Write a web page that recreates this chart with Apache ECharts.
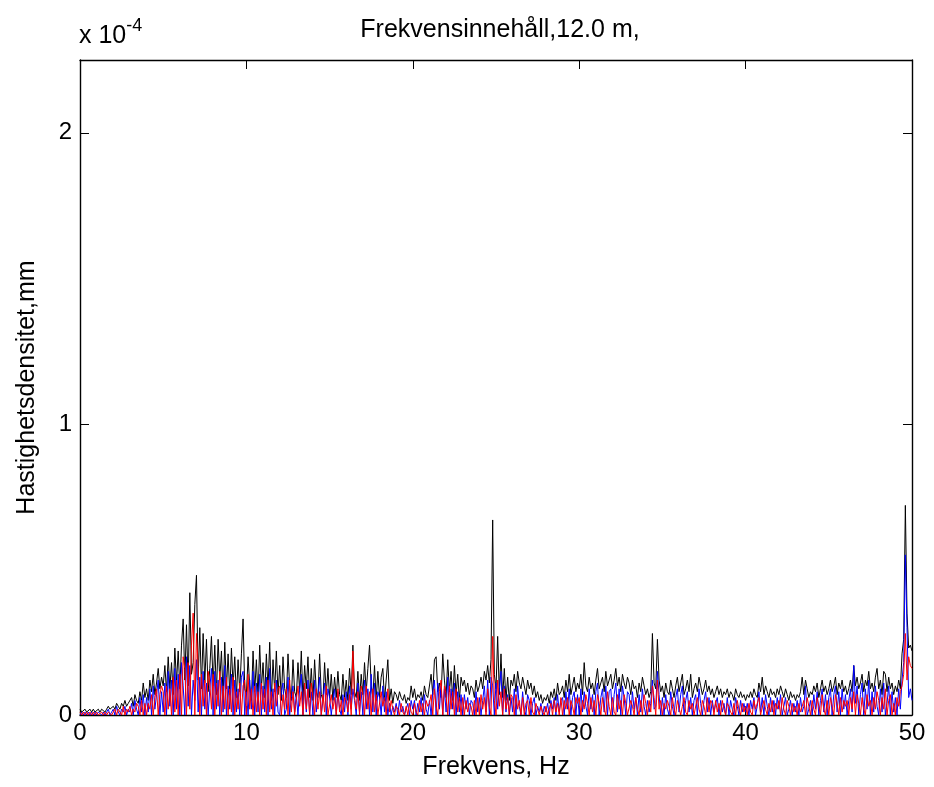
<!DOCTYPE html>
<html>
<head>
<meta charset="utf-8">
<script src="https://cdn.jsdelivr.net/npm/echarts@6/dist/echarts.min.js"></script>
<style>
  html, body { margin: 0; padding: 0; background: #fff; }
  #chart { width: 934px; height: 787px; }
</style>
</head>
<body>
<div id="chart"></div>
<script>
// Spectral velocity density, three traces sampled every 0.1 Hz from 0 to 50 Hz.
// Values are in units of 1e-4 (see the "x 10^-4" multiplier above the y axis).
const freqStep = 0.1;

const blackTrace = [
  0.02,0.01,0.01,0.02,0.01,0.01,0.02,0.01,0.02,0.01,
  0.01,0.02,0.01,0.02,0.02,0.01,0.02,0.03,0.02,0.02,
  0.03,0.02,0.04,0.03,0.02,0.04,0.03,0.05,0.03,0.04,
  0.04,0.06,0.03,0.07,0.05,0.04,0.08,0.05,0.11,0.06,
  0.09,0.05,0.12,0.08,0.14,0.07,0.11,0.16,0.09,0.13,
  0.10,0.17,0.08,0.20,0.09,0.18,0.07,0.23,0.11,0.22,
  0.09,0.24,0.33,0.12,0.31,0.10,0.42,0.14,0.18,0.38,
  0.48,0.12,0.30,0.09,0.28,0.11,0.26,0.08,0.16,0.27,
  0.10,0.24,0.07,0.26,0.12,0.22,0.06,0.25,0.09,0.21,
  0.07,0.23,0.10,0.20,0.06,0.19,0.08,0.21,0.33,0.09,
  0.07,0.20,0.10,0.05,0.22,0.08,0.19,0.06,0.24,0.09,
  0.18,0.06,0.21,0.09,0.25,0.05,0.19,0.08,0.22,0.07,
  0.17,0.05,0.20,0.09,0.06,0.21,0.10,0.05,0.19,0.08,
  0.06,0.18,0.08,0.22,0.05,0.17,0.09,0.20,0.06,0.16,
  0.05,0.19,0.08,0.06,0.21,0.07,0.05,0.18,0.07,0.16,
  0.06,0.14,0.05,0.13,0.06,0.15,0.07,0.05,0.14,0.06,
  0.12,0.05,0.16,0.07,0.24,0.08,0.06,0.15,0.05,0.14,
  0.07,0.18,0.08,0.16,0.24,0.10,0.06,0.17,0.05,0.15,
  0.06,0.13,0.16,0.05,0.12,0.19,0.05,0.09,0.04,0.08,
  0.07,0.05,0.08,0.06,0.05,0.07,0.04,0.06,0.05,0.10,
  0.06,0.09,0.05,0.07,0.06,0.08,0.05,0.10,0.07,0.06,
  0.06,0.14,0.07,0.19,0.20,0.08,0.11,0.06,0.21,0.12,
  0.06,0.19,0.08,0.15,0.05,0.17,0.07,0.14,0.05,0.13,
  0.10,0.12,0.08,0.11,0.07,0.10,0.09,0.06,0.12,0.08,
  0.10,0.13,0.09,0.15,0.12,0.17,0.11,0.19,0.67,0.14,
  0.09,0.27,0.07,0.21,0.06,0.16,0.05,0.13,0.05,0.12,
  0.10,0.14,0.08,0.15,0.11,0.09,0.13,0.10,0.07,0.12,
  0.09,0.11,0.07,0.10,0.06,0.08,0.05,0.07,0.04,0.06,
  0.05,0.07,0.04,0.08,0.06,0.09,0.05,0.11,0.07,0.08,
  0.10,0.06,0.12,0.08,0.14,0.07,0.10,0.13,0.08,0.11,
  0.09,0.14,0.07,0.18,0.10,0.08,0.13,0.09,0.11,0.07,
  0.12,0.16,0.09,0.11,0.13,0.08,0.15,0.10,0.12,0.14,
  0.09,0.12,0.16,0.10,0.13,0.08,0.14,0.11,0.09,0.13,
  0.11,0.07,0.12,0.09,0.10,0.06,0.11,0.08,0.13,0.10,
  0.07,0.09,0.06,0.08,0.28,0.11,0.09,0.26,0.12,0.08,
  0.10,0.06,0.11,0.08,0.07,0.12,0.09,0.06,0.10,0.13,
  0.08,0.11,0.14,0.07,0.09,0.12,0.08,0.14,0.06,0.09,
  0.11,0.08,0.13,0.10,0.07,0.09,0.12,0.08,0.10,0.07,
  0.09,0.06,0.08,0.10,0.07,0.09,0.06,0.08,0.07,0.09,
  0.06,0.08,0.07,0.05,0.09,0.07,0.06,0.08,0.06,0.07,
  0.05,0.07,0.06,0.08,0.06,0.09,0.07,0.06,0.11,0.08,
  0.13,0.07,0.10,0.08,0.06,0.09,0.07,0.08,0.06,0.09,
  0.07,0.10,0.08,0.06,0.09,0.07,0.05,0.08,0.06,0.07,
  0.05,0.07,0.06,0.08,0.13,0.07,0.12,0.09,0.06,0.08,
  0.07,0.10,0.08,0.11,0.06,0.09,0.12,0.08,0.10,0.07,
  0.09,0.12,0.08,0.10,0.13,0.07,0.11,0.09,0.12,0.08,
  0.10,0.07,0.09,0.12,0.08,0.17,0.10,0.13,0.09,0.11,
  0.14,0.08,0.12,0.10,0.15,0.09,0.11,0.08,0.13,0.16,
  0.09,0.12,0.07,0.15,0.14,0.08,0.13,0.09,0.11,0.07,
  0.10,0.08,0.12,0.09,0.21,0.26,0.72,0.35,0.23,0.24,
  0.22
];

const blueTrace = [
  0.00,0.01,0.00,0.01,0.00,0.01,0.00,0.01,0.00,0.01,
  0.00,0.01,0.01,0.00,0.01,0.00,0.01,0.02,0.00,0.01,
  0.02,0.00,0.03,0.01,0.00,0.02,0.01,0.03,0.00,0.02,
  0.01,0.04,0.00,0.05,0.02,0.00,0.06,0.01,0.07,0.00,
  0.06,0.01,0.09,0.00,0.10,0.02,0.07,0.12,0.00,0.08,
  0.01,0.11,0.00,0.15,0.03,0.12,0.00,0.16,0.02,0.14,
  0.00,0.18,0.10,0.00,0.20,0.03,0.17,0.00,0.12,0.05,
  0.19,0.01,0.13,0.00,0.15,0.02,0.11,0.00,0.09,0.16,
  0.00,0.15,0.02,0.12,0.00,0.13,0.01,0.17,0.00,0.10,
  0.02,0.14,0.00,0.12,0.01,0.09,0.00,0.13,0.15,0.00,
  0.08,0.00,0.12,0.02,0.15,0.00,0.11,0.01,0.14,0.00,
  0.10,0.01,0.13,0.00,0.16,0.02,0.09,0.00,0.12,0.01,
  0.00,0.08,0.11,0.00,0.02,0.13,0.00,0.06,0.10,0.01,
  0.07,0.00,0.09,0.14,0.00,0.10,0.01,0.12,0.00,0.08,
  0.00,0.12,0.01,0.07,0.13,0.00,0.05,0.11,0.00,0.09,
  0.06,0.00,0.05,0.09,0.00,0.08,0.02,0.00,0.07,0.01,
  0.08,0.00,0.10,0.02,0.09,0.05,0.00,0.11,0.01,0.08,
  0.00,0.12,0.02,0.09,0.00,0.14,0.01,0.11,0.00,0.08,
  0.06,0.00,0.10,0.01,0.08,0.00,0.04,0.00,0.03,0.01,
  0.04,0.00,0.05,0.01,0.03,0.00,0.02,0.04,0.00,0.05,
  0.02,0.05,0.00,0.04,0.01,0.06,0.00,0.07,0.02,0.00,
  0.05,0.00,0.08,0.12,0.00,0.11,0.02,0.10,0.00,0.09,
  0.01,0.13,0.00,0.09,0.02,0.11,0.00,0.08,0.01,0.07,
  0.00,0.07,0.02,0.06,0.00,0.05,0.04,0.00,0.08,0.01,
  0.06,0.00,0.05,0.10,0.01,0.12,0.00,0.13,0.10,0.00,
  0.11,0.02,0.09,0.15,0.00,0.10,0.01,0.07,0.00,0.06,
  0.01,0.09,0.00,0.10,0.03,0.00,0.08,0.02,0.00,0.07,
  0.05,0.00,0.04,0.06,0.00,0.03,0.01,0.04,0.00,0.03,
  0.01,0.04,0.00,0.05,0.02,0.06,0.00,0.07,0.01,0.05,
  0.06,0.00,0.08,0.02,0.09,0.00,0.06,0.08,0.00,0.07,
  0.00,0.09,0.01,0.08,0.03,0.00,0.09,0.02,0.07,0.00,
  0.08,0.11,0.00,0.06,0.09,0.01,0.10,0.00,0.08,0.09,
  0.00,0.07,0.11,0.01,0.09,0.00,0.10,0.06,0.00,0.08,
  0.07,0.00,0.08,0.02,0.06,0.00,0.07,0.01,0.09,0.03,
  0.00,0.05,0.01,0.04,0.12,0.02,0.03,0.15,0.07,0.00,
  0.06,0.00,0.07,0.02,0.00,0.08,0.03,0.00,0.06,0.09,
  0.01,0.07,0.10,0.00,0.05,0.08,0.01,0.06,0.00,0.05,
  0.07,0.00,0.09,0.04,0.00,0.05,0.08,0.01,0.06,0.00,
  0.05,0.01,0.04,0.06,0.00,0.05,0.01,0.04,0.00,0.06,
  0.00,0.05,0.02,0.00,0.06,0.03,0.00,0.05,0.01,0.04,
  0.01,0.04,0.00,0.05,0.02,0.06,0.00,0.03,0.08,0.01,
  0.06,0.00,0.07,0.03,0.00,0.06,0.01,0.05,0.00,0.06,
  0.02,0.07,0.00,0.03,0.06,0.00,0.02,0.05,0.00,0.04,
  0.01,0.05,0.00,0.06,0.01,0.03,0.10,0.00,0.02,0.05,
  0.00,0.07,0.02,0.08,0.00,0.05,0.09,0.01,0.07,0.00,
  0.06,0.09,0.00,0.07,0.10,0.01,0.08,0.00,0.09,0.02,
  0.07,0.00,0.05,0.09,0.01,0.17,0.04,0.10,0.00,0.07,
  0.11,0.00,0.09,0.02,0.12,0.00,0.08,0.01,0.10,0.03,
  0.00,0.09,0.01,0.11,0.00,0.04,0.10,0.00,0.08,0.01,
  0.06,0.00,0.09,0.02,0.12,0.18,0.55,0.30,0.06,0.09,
  0.05
];

const redTrace = [
  0.01,0.00,0.01,0.00,0.01,0.00,0.01,0.00,0.01,0.00,
  0.01,0.00,0.00,0.01,0.00,0.01,0.00,0.01,0.01,0.00,
  0.00,0.02,0.00,0.02,0.01,0.00,0.03,0.00,0.02,0.01,
  0.03,0.00,0.02,0.01,0.04,0.03,0.00,0.05,0.00,0.04,
  0.00,0.04,0.02,0.07,0.00,0.06,0.09,0.00,0.07,0.10,
  0.08,0.00,0.10,0.02,0.09,0.00,0.13,0.01,0.12,0.00,
  0.14,0.00,0.20,0.16,0.00,0.18,0.02,0.24,0.35,0.00,
  0.28,0.17,0.00,0.14,0.03,0.12,0.00,0.15,0.11,0.02,
  0.14,0.00,0.11,0.03,0.15,0.00,0.10,0.02,0.13,0.00,
  0.09,0.01,0.13,0.00,0.08,0.02,0.11,0.00,0.10,0.12,
  0.00,0.14,0.02,0.09,0.00,0.10,0.01,0.08,0.00,0.11,
  0.02,0.09,0.00,0.12,0.01,0.08,0.00,0.11,0.03,0.09,
  0.10,0.00,0.07,0.02,0.09,0.00,0.12,0.01,0.08,0.00,
  0.00,0.10,0.03,0.08,0.00,0.11,0.02,0.09,0.00,0.11,
  0.06,0.00,0.09,0.02,0.08,0.00,0.07,0.01,0.10,0.00,
  0.00,0.07,0.02,0.06,0.00,0.09,0.01,0.05,0.00,0.06,
  0.05,0.01,0.07,0.00,0.22,0.06,0.02,0.08,0.00,0.10,
  0.07,0.00,0.10,0.02,0.08,0.00,0.09,0.01,0.07,0.00,
  0.00,0.08,0.03,0.06,0.00,0.09,0.01,0.05,0.02,0.00,
  0.03,0.02,0.00,0.04,0.01,0.00,0.03,0.00,0.04,0.01,
  0.00,0.04,0.01,0.00,0.05,0.01,0.04,0.00,0.05,0.03,
  0.04,0.07,0.00,0.09,0.03,0.00,0.08,0.12,0.00,0.10,
  0.07,0.00,0.10,0.02,0.08,0.00,0.09,0.01,0.06,0.00,
  0.06,0.00,0.05,0.01,0.04,0.03,0.00,0.05,0.00,0.06,
  0.00,0.07,0.02,0.06,0.00,0.09,0.03,0.00,0.27,0.05,
  0.00,0.12,0.03,0.08,0.00,0.09,0.02,0.06,0.00,0.07,
  0.06,0.00,0.07,0.02,0.05,0.00,0.06,0.00,0.04,0.05,
  0.00,0.06,0.01,0.00,0.04,0.02,0.00,0.03,0.01,0.00,
  0.03,0.00,0.02,0.04,0.00,0.05,0.01,0.04,0.00,0.06,
  0.00,0.05,0.02,0.06,0.00,0.05,0.03,0.00,0.06,0.04,
  0.06,0.00,0.05,0.02,0.07,0.04,0.00,0.06,0.01,0.05,
  0.00,0.07,0.04,0.00,0.06,0.02,0.00,0.08,0.03,0.00,
  0.06,0.01,0.00,0.07,0.02,0.05,0.00,0.07,0.04,0.00,
  0.00,0.05,0.03,0.00,0.06,0.02,0.00,0.05,0.00,0.07,
  0.04,0.00,0.05,0.01,0.10,0.06,0.00,0.12,0.02,0.05,
  0.00,0.04,0.02,0.05,0.03,0.00,0.06,0.02,0.00,0.05,
  0.05,0.00,0.03,0.06,0.01,0.00,0.05,0.02,0.04,0.00,
  0.00,0.06,0.02,0.00,0.05,0.03,0.00,0.06,0.01,0.05,
  0.04,0.00,0.05,0.01,0.04,0.00,0.05,0.02,0.00,0.04,
  0.03,0.01,0.00,0.04,0.00,0.05,0.02,0.00,0.04,0.01,
  0.03,0.00,0.04,0.01,0.00,0.05,0.02,0.04,0.06,0.00,
  0.00,0.05,0.02,0.00,0.04,0.01,0.05,0.00,0.04,0.02,
  0.05,0.00,0.06,0.02,0.00,0.05,0.03,0.00,0.04,0.01,
  0.03,0.00,0.04,0.01,0.03,0.05,0.00,0.06,0.03,0.00,
  0.05,0.02,0.00,0.06,0.03,0.00,0.07,0.02,0.00,0.05,
  0.00,0.06,0.03,0.00,0.07,0.04,0.00,0.06,0.01,0.05,
  0.03,0.05,0.00,0.06,0.02,0.08,0.00,0.07,0.04,0.00,
  0.06,0.02,0.00,0.07,0.03,0.05,0.00,0.06,0.02,0.08,
  0.05,0.00,0.06,0.02,0.09,0.00,0.05,0.07,0.00,0.04,
  0.00,0.06,0.03,0.08,0.10,0.14,0.28,0.12,0.20,0.17,
  0.16
];

const xTicks = [0, 10, 20, 30, 40, 50];
const yTicks = [0, 1, 2];

const titleText = 'Frekvensinnehåll,12.0 m,';
const xName = 'Frekvens, Hz';
const yName = 'Hastighetsdensitet,mm';

function pairs(values) {
  return values.map((v, i) => [Math.round(i * freqStep * 10) / 10, v]);
}

const font = '"Liberation Sans", Arial, Helvetica, sans-serif';
const textSize = 25;
const tickSize = 24;
const chart = echarts.init(document.getElementById('chart'), null, { renderer: 'canvas' });

const tickStyle = { show: true, inside: true, length: 9, lineStyle: { color: '#000', width: 1 } };
const lineStyleAxis = { show: true, onZero: false, lineStyle: { color: '#000', width: 1.4 } };

chart.setOption({
  animation: false,
  backgroundColor: '#fff',
  textStyle: { fontFamily: font },
  title: {
    text: titleText,
    left: 495, top: 13,
    textAlign: 'center',
    textStyle: { fontFamily: font, fontSize: textSize, fontWeight: 'normal', color: '#000' }
  },
  graphic: [{
    type: 'text',
    left: 79, top: 17,
    style: {
      text: 'x 10{sup|-4}',
      fontFamily: font, fontSize: 25, fill: '#000',
      rich: { sup: { fontFamily: font, fontSize: 18, verticalAlign: 'top', padding: [0, 0, 20, 0] } }
    }
  }],
  grid: { left: 80, right: 22, top: 60, bottom: 72, containLabel: false },
  xAxis: [{
    type: 'value', min: xTicks[0], max: xTicks[xTicks.length - 1], interval: 10,
    position: 'bottom',
    name: xName, nameLocation: 'middle', nameGap: 40,
    nameTextStyle: { fontFamily: font, fontSize: textSize, color: '#000' },
    axisLine: lineStyleAxis, axisTick: tickStyle,
    axisLabel: { fontFamily: font, fontSize: tickSize, color: '#000', margin: 6 },
    splitLine: { show: false }
  }, {
    type: 'value', min: xTicks[0], max: xTicks[xTicks.length - 1], interval: 10,
    position: 'top',
    axisLine: lineStyleAxis, axisTick: tickStyle,
    axisLabel: { show: false }, splitLine: { show: false }
  }],
  yAxis: [{
    type: 'value', min: yTicks[0], max: 2.25, interval: 1,
    position: 'left',
    name: yName, nameLocation: 'middle', nameGap: 40,
    nameTextStyle: { fontFamily: font, fontSize: textSize, color: '#000' },
    axisLine: lineStyleAxis, axisTick: tickStyle,
    axisLabel: {
      fontFamily: font, fontSize: tickSize, color: '#000', margin: 8,
      formatter: v => (yTicks.indexOf(v) >= 0 ? String(v) : '')
    },
    splitLine: { show: false }
  }, {
    type: 'value', min: yTicks[0], max: 2.25, interval: 1,
    position: 'right',
    axisLine: lineStyleAxis, axisTick: tickStyle,
    axisLabel: { show: false }, splitLine: { show: false }
  }],
  series: [
    { type: 'line', data: pairs(blackTrace), showSymbol: false, symbol: 'none',
      lineStyle: { color: '#000000', width: 1 }, z: 2 },
    { type: 'line', data: pairs(blueTrace), showSymbol: false, symbol: 'none',
      lineStyle: { color: '#0000ff', width: 1 }, z: 3 },
    { type: 'line', data: pairs(redTrace), showSymbol: false, symbol: 'none',
      lineStyle: { color: '#ff0000', width: 1 }, z: 4 }
  ]
});
</script>
</body>
</html>
